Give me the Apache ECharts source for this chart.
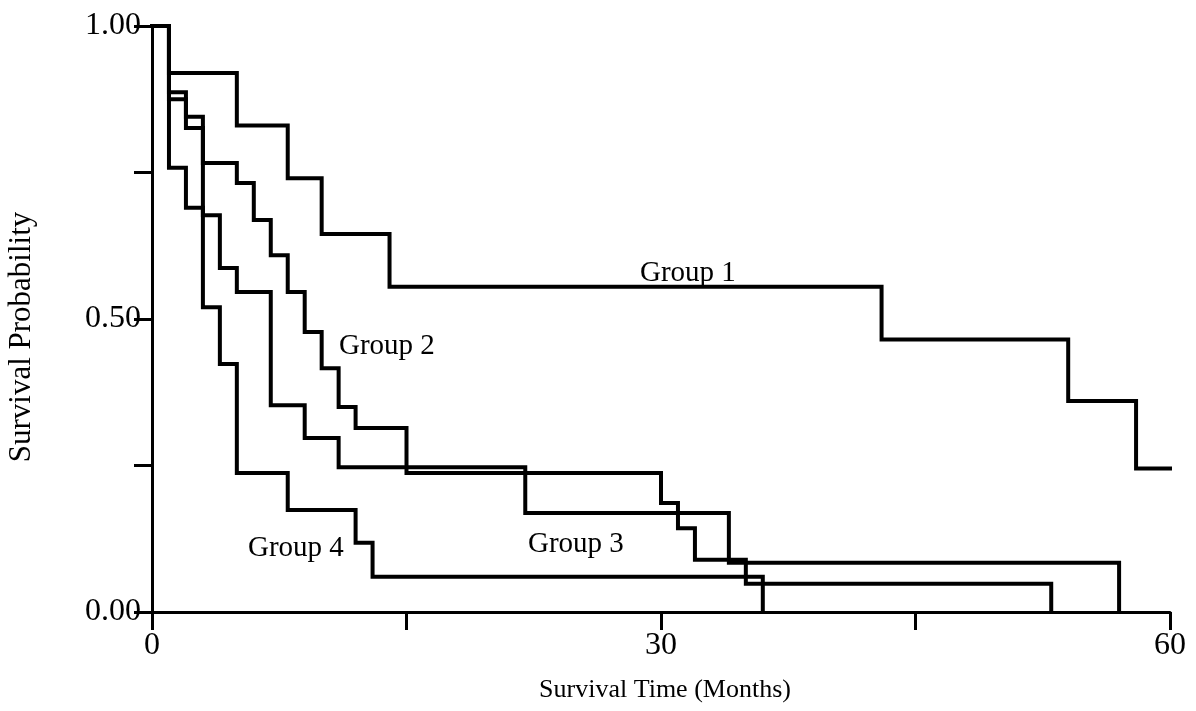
<!DOCTYPE html>
<html>
<head>
<meta charset="utf-8">
<script src="https://cdn.jsdelivr.net/npm/echarts@6/dist/echarts.min.js"></script>
<style>
  html, body { margin: 0; padding: 0; background: #fff; }
  #chart { width: 1196px; height: 711px; }
</style>
</head>
<body>
<div id="chart"></div>
<script>
// Kaplan-Meier survival estimates per group: event times (months) and survival probability
const group1Times = [0, 1, 5, 8, 10, 14, 43, 54, 58, 60];
const group1Surv  = [1, 0.92, 0.83, 0.74, 0.645, 0.555, 0.465, 0.36, 0.245, 0.245];

const group2Times = [0, 1, 2, 3, 5, 6, 7, 8, 9, 10, 11, 12, 15, 30, 31, 32, 35, 53];
const group2Surv  = [1, 0.887, 0.845, 0.766, 0.732, 0.669, 0.609, 0.546, 0.478, 0.416, 0.35, 0.314, 0.237, 0.186, 0.143, 0.089, 0.048, 0];

const group3Times = [0, 1, 2, 3, 4, 5, 7, 9, 11, 22, 34, 57];
const group3Surv  = [1, 0.875, 0.826, 0.677, 0.587, 0.546, 0.353, 0.297, 0.247, 0.169, 0.084, 0];

const group4Times = [0, 1, 2, 3, 4, 5, 8, 12, 13, 36];
const group4Surv  = [1, 0.758, 0.69, 0.52, 0.423, 0.237, 0.174, 0.118, 0.06, 0];

const groupNames = ['Group 1', 'Group 2', 'Group 3', 'Group 4'];
const xTickLabels = [0, 30, 60];
const yTickLabels = ['0.00', '0.50', '1.00'];
const xTitle = 'Survival Time (Months)';
const yTitle = 'Survival Probability';

const FONT = "'Liberation Serif', 'Times New Roman', serif";

function pairs(times, surv) {
  return times.map((t, i) => [t, surv[i]]);
}

const groups = [
  pairs(group1Times, group1Surv),
  pairs(group2Times, group2Surv),
  pairs(group3Times, group3Surv),
  pairs(group4Times, group4Surv)
];

const chart = echarts.init(document.getElementById('chart'), null, { renderer: 'canvas' });

const axisCommon = {
  axisLine: { show: true, lineStyle: { color: '#000', width: 3 } },
  axisTick: { show: true, inside: false, length: 18, lineStyle: { color: '#000', width: 3 } },
  splitLine: { show: false }
};

const option = {
  animation: false,
  backgroundColor: '#ffffff',
  grid: { left: 152, right: 26, top: 26, bottom: 99, containLabel: false },
  xAxis: Object.assign({
    type: 'value',
    min: 0, max: 60, interval: 15,
    axisLabel: {
      fontFamily: FONT, fontSize: 32, color: '#000', margin: 18,
      formatter: v => (xTickLabels.indexOf(v) >= 0 ? String(v) : '')
    }
  }, axisCommon),
  yAxis: Object.assign({
    type: 'value',
    min: 0, max: 1, interval: 0.25,
    axisLabel: {
      fontFamily: FONT, fontSize: 32, color: '#000', margin: 11,
      formatter: v => {
        const idx = Math.round(v * 2);
        return Math.abs(v * 2 - idx) < 1e-6 ? yTickLabels[idx] : '';
      }
    }
  }, axisCommon),
  series: groups.map((data, i) => ({
    name: groupNames[i],
    type: 'line',
    step: 'end',
    data: data,
    symbol: 'none',
    lineStyle: { color: '#000', width: 4, join: 'miter', cap: 'square' },
    z: 3 + i
  })),
  graphic: [
    {
      type: 'text', x: 665, y: 690,
      style: { text: xTitle, font: `26px ${FONT}`, fill: '#000', align: 'center', verticalAlign: 'middle' }
    },
    {
      type: 'text', x: 22, y: 337, rotation: Math.PI / 2,
      style: { text: yTitle, font: `31px ${FONT}`, fill: '#000', align: 'center', verticalAlign: 'middle' }
    },
    { type: 'text', left: 640, top: 259, style: { text: groupNames[0], font: `29px ${FONT}`, fill: '#000' } },
    { type: 'text', left: 339, top: 332, style: { text: groupNames[1], font: `29px ${FONT}`, fill: '#000' } },
    { type: 'text', left: 528, top: 530, style: { text: groupNames[2], font: `29px ${FONT}`, fill: '#000' } },
    { type: 'text', left: 248, top: 534, style: { text: groupNames[3], font: `29px ${FONT}`, fill: '#000' } }
  ]
};

chart.setOption(option);
</script>
</body>
</html>
